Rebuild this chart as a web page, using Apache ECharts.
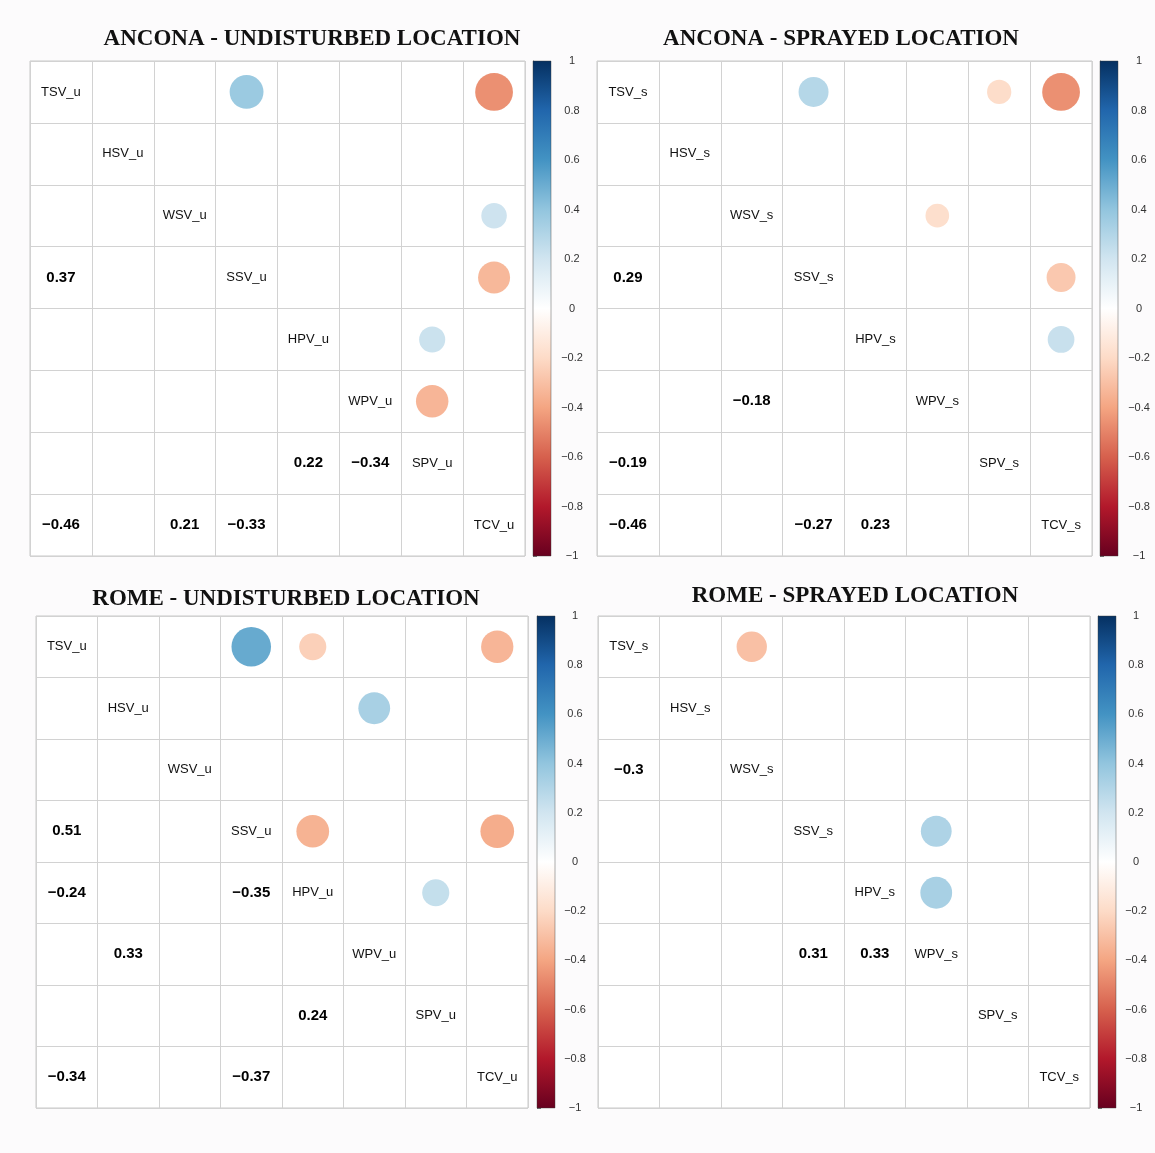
<!DOCTYPE html>
<html>
<head>
<meta charset="utf-8">
<script src="https://cdn.jsdelivr.net/npm/echarts@6/dist/echarts.min.js"></script>
<style>
  html, body { margin: 0; padding: 0; background: #fcfbfc; }
  #chart { width: 1155px; height: 1153px; }
</style>
</head>
<body>
<div id="chart"></div>
<script>
// Variable names on the diagonal
const varsU = ['TSV_u', 'HSV_u', 'WSV_u', 'SSV_u', 'HPV_u', 'WPV_u', 'SPV_u', 'TCV_u'];
const varsS = ['TSV_s', 'HSV_s', 'WSV_s', 'SSV_s', 'HPV_s', 'WPV_s', 'SPV_s', 'TCV_s'];

// Significant correlations: [row variable, column variable, r]
const anconaU = [
  ['SSV_u', 'TSV_u', 0.37],
  ['SPV_u', 'HPV_u', 0.22],
  ['SPV_u', 'WPV_u', -0.34],
  ['TCV_u', 'TSV_u', -0.46],
  ['TCV_u', 'WSV_u', 0.21],
  ['TCV_u', 'SSV_u', -0.33]
];
const anconaS = [
  ['SSV_s', 'TSV_s', 0.29],
  ['WPV_s', 'WSV_s', -0.18],
  ['SPV_s', 'TSV_s', -0.19],
  ['TCV_s', 'TSV_s', -0.46],
  ['TCV_s', 'SSV_s', -0.27],
  ['TCV_s', 'HPV_s', 0.23]
];
const romeU = [
  ['SSV_u', 'TSV_u', 0.51],
  ['HPV_u', 'TSV_u', -0.24],
  ['HPV_u', 'SSV_u', -0.35],
  ['WPV_u', 'HSV_u', 0.33],
  ['SPV_u', 'HPV_u', 0.24],
  ['TCV_u', 'TSV_u', -0.34],
  ['TCV_u', 'SSV_u', -0.37]
];
const romeS = [
  ['WSV_s', 'TSV_s', -0.3],
  ['WPV_s', 'SSV_s', 0.31],
  ['WPV_s', 'HPV_s', 0.33]
];

// Colour-bar ticks
const barTicks = [-1, -0.8, -0.6, -0.4, -0.2, 0, 0.2, 0.4, 0.6, 0.8, 1];

// Diverging red-blue palette, from -1 to 1
const PALETTE = ['#67001F', '#B2182B', '#D6604D', '#F4A582', '#FDDBC7', '#FFFFFF',
                 '#D1E5F0', '#92C5DE', '#4393C3', '#2166AC', '#053061'];

const panels = [
  { title: 'ANCONA - UNDISTURBED LOCATION', vars: varsU, pairs: anconaU,
    gx: 30, gy: 61, size: 495, bx: 533, margin: 21, tx: 307, ty: 23 },
  { title: 'ANCONA - SPRAYED LOCATION', vars: varsS, pairs: anconaS,
    gx: 597, gy: 61, size: 495, bx: 1100, margin: 21, tx: 836, ty: 23 },
  { title: 'ROME - UNDISTURBED LOCATION', vars: varsU, pairs: romeU,
    gx: 36, gy: 616, size: 492, bx: 537, margin: 20, tx: 281, ty: 583 },
  { title: 'ROME - SPRAYED LOCATION', vars: varsS, pairs: romeS,
    gx: 598, gy: 616, size: 492, bx: 1098, margin: 20, tx: 850, ty: 580 }
];

const fmt = v => String(Math.round(v * 100) / 100).replace('-', '\u2212');

const option = {
  animation: false,
  backgroundColor: 'transparent',
  title: [], grid: [], xAxis: [], yAxis: [], series: [],
  visualMap: {
    show: false, type: 'continuous', min: -1, max: 1, dimension: 2,
    seriesIndex: [], inRange: { color: PALETTE }
  }
};

panels.forEach(p => {
  const n = p.vars.length;
  const cell = p.size / n;

  option.title.push({
    text: p.title, left: p.tx, top: p.ty, textAlign: 'center',
    textStyle: { fontFamily: 'Liberation Serif', fontWeight: 'bold', fontSize: 23, color: '#111' }
  });

  // correlation matrix grid
  const gi = option.grid.length;
  option.grid.push({
    left: p.gx, top: p.gy, width: p.size, height: p.size,
    show: true, backgroundColor: '#ffffff', borderColor: '#c9c9c9', borderWidth: 1
  });
  option.xAxis.push({
    type: 'value', gridIndex: gi, min: 0, max: n, interval: 1,
    axisLine: { show: false }, axisTick: { show: false }, axisLabel: { show: false },
    splitLine: { show: true, lineStyle: { color: '#d2d2d2', width: 1 } }
  });
  option.yAxis.push({
    type: 'value', gridIndex: gi, min: 0, max: n, interval: 1, inverse: true,
    axisLine: { show: false }, axisTick: { show: false }, axisLabel: { show: false },
    splitLine: { show: true, lineStyle: { color: '#d2d2d2', width: 1 } }
  });

  const idx = name => p.vars.indexOf(name);
  const circles = p.pairs.map(([a, b, r]) => [idx(a) + 0.5, idx(b) + 0.5, r]);
  const numbers = p.pairs.map(([a, b, r]) => [idx(b) + 0.5, idx(a) + 0.5, r]);
  const diag = p.vars.map((v, i) => ({ value: [i + 0.5, i + 0.5, 0], name: v }));

  // circles in the upper triangle, area proportional to |r|
  option.visualMap.seriesIndex.push(option.series.length);
  option.series.push({
    type: 'scatter', xAxisIndex: gi, yAxisIndex: gi, data: circles,
    symbolSize: v => 0.9 * cell * Math.sqrt(Math.abs(v[2])),
    itemStyle: { opacity: 1 },
    silent: true, z: 3
  });
  // coefficients in the lower triangle
  option.series.push({
    type: 'scatter', xAxisIndex: gi, yAxisIndex: gi, data: numbers,
    symbolSize: 0, silent: true, z: 4, itemStyle: { opacity: 1 },
    label: {
      show: true, position: 'inside', formatter: d => fmt(d.value[2]),
      fontFamily: 'Liberation Sans', fontWeight: 'bold', fontSize: 15, color: '#000'
    }
  });
  // variable names on the diagonal
  option.series.push({
    type: 'scatter', xAxisIndex: gi, yAxisIndex: gi, data: diag,
    symbolSize: 0, silent: true, z: 4, itemStyle: { opacity: 1 },
    label: {
      show: true, position: 'inside', formatter: d => d.name,
      fontFamily: 'Liberation Sans', fontSize: 13, color: '#111'
    }
  });

  // colour bar
  const bi = option.grid.length;
  option.grid.push({ left: p.bx, top: p.gy, width: 18, height: p.size });
  option.xAxis.push({ type: 'value', gridIndex: bi, min: 0, max: 1, show: false });
  option.yAxis.push({
    type: 'value', gridIndex: bi, min: barTicks[0], max: barTicks[barTicks.length - 1],
    interval: 0.2, position: 'right',
    axisLine: { show: true, lineStyle: { color: '#555', width: 0.8 } },
    axisTick: { show: true, length: 4, lineStyle: { color: '#555', width: 0.8 } },
    splitLine: { show: false },
    axisLabel: {
      show: true, margin: p.margin, align: 'center', fontFamily: 'Liberation Sans',
      fontSize: 11, color: '#333', formatter: v => fmt(v)
    }
  });
  option.series.push({
    type: 'custom', xAxisIndex: bi, yAxisIndex: bi, silent: true,
    data: [[0, barTicks[0], 1, barTicks[barTicks.length - 1]]],
    renderItem: (params, api) => {
      const tl = api.coord([api.value(0), api.value(3)]);
      const br = api.coord([api.value(2), api.value(1)]);
      const stops = PALETTE.slice().reverse().map((c, i) => ({ offset: i / (PALETTE.length - 1), color: c }));
      return {
        type: 'rect',
        shape: { x: tl[0], y: tl[1], width: br[0] - tl[0], height: br[1] - tl[1] },
        style: {
          fill: new echarts.graphic.LinearGradient(0, 0, 0, 1, stops),
          stroke: 'rgba(60,60,60,0.7)', lineWidth: 0.6
        }
      };
    }
  });
});

const chart = echarts.init(document.getElementById('chart'), null, { renderer: 'canvas' });
chart.setOption(option);
</script>
</body>
</html>
